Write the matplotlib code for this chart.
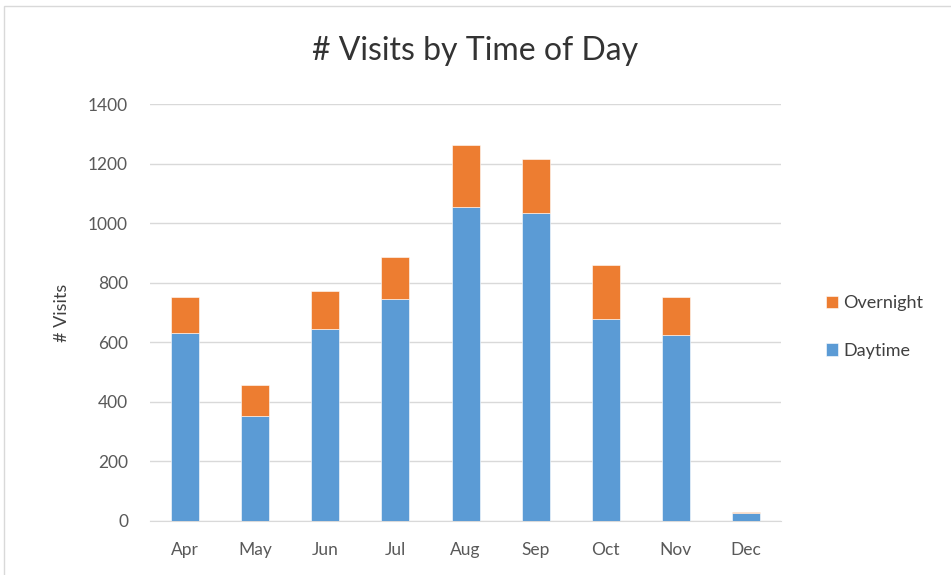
import numpy as np
import matplotlib.pyplot as plt
from matplotlib.patches import Rectangle

months = ["Apr", "May", "Jun", "Jul", "Aug", "Sep", "Oct", "Nov", "Dec"]
daytime = [630, 353, 643, 744, 1054, 1034, 677, 623, 25]
overnight = [121, 102, 128, 142, 208, 181, 182, 128, 5]

blue = "#5B9BD5"
orange = "#ED7D31"
text_col = "#595959"

plt.rcParams["font.family"] = ["Lato", "DejaVu Sans"]

fig = plt.figure(figsize=(9.51, 5.75), dpi=100)
ax = fig.add_axes([0.158, 0.0944, 0.663, 0.7242])

x = np.arange(len(months))
ax.bar(x, daytime, width=0.4, color=blue, label="Daytime", zorder=3,
       edgecolor="white", linewidth=0.4)
ax.bar(x, overnight, width=0.4, bottom=daytime, color=orange, label="Overnight",
       zorder=3, edgecolor="white", linewidth=0.4)

ax.set_xlim(-0.5, len(months) - 0.5)
ax.set_ylim(0, 1400)
ax.set_yticks(range(0, 1401, 200))
ax.set_xticks(x)
ax.set_xticklabels(months)
ax.grid(axis="y", color="#D9D9D9", linewidth=1, zorder=0)
for s in ["top", "right", "left"]:
    ax.spines[s].set_visible(False)
ax.spines["bottom"].set_color("#D9D9D9")
ax.tick_params(axis="both", length=0, labelsize=12.5, colors=text_col)
ax.tick_params(axis="x", pad=15)
ax.tick_params(axis="y", pad=16)
ax.set_ylabel("# Visits", fontsize=13, color="#404040", labelpad=13)

fig.text(0.5, 0.912, "# Visits by Time of Day", ha="center", va="center",
         fontsize=23, color="#333333")

handles, labels = ax.get_legend_handles_labels()
fig.legend(handles[::-1], labels[::-1], loc="center left",
           bbox_to_anchor=(0.851, 0.431), frameon=False, fontsize=13,
           handlelength=0.7, handleheight=0.7, handletextpad=0.3,
           labelspacing=1.75, labelcolor="#404040")

fig.patches.append(Rectangle((0.004, -0.01), 1.1, 1.0, transform=fig.transFigure,
                             fill=False, edgecolor="#D9D9D9", linewidth=1))

fig.savefig("out.png", dpi=100)
